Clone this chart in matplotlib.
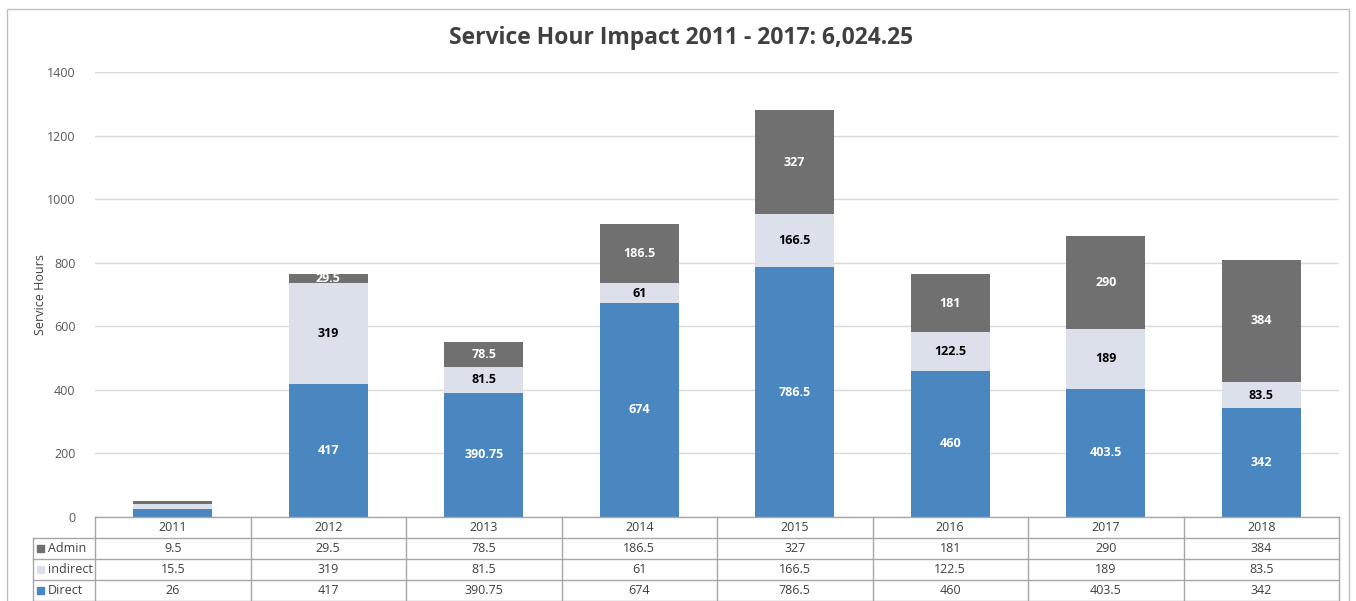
import matplotlib.pyplot as plt
from matplotlib.patches import Rectangle
import numpy as np

plt.rcParams['font.family'] = ['Open Sans', 'DejaVu Sans']

years = ['2011', '2012', '2013', '2014', '2015', '2016', '2017', '2018']
direct = [26, 417, 390.75, 674, 786.5, 460, 403.5, 342]
indirect = [15.5, 319, 81.5, 61, 166.5, 122.5, 189, 83.5]
admin = [9.5, 29.5, 78.5, 186.5, 327, 181, 290, 384]

c_direct = '#4A86C0'
c_indirect = '#DCE0EA'
c_admin = '#707070'

W, H = 1356, 601
fig = plt.figure(figsize=(W / 100, H / 100), dpi=100)

def box(x0, y0, x1, y1):
    # pixel coords (top-left origin) -> figure fraction
    return [x0 / W, 1 - y1 / H, (x1 - x0) / W, (y1 - y0) / H]

# outer chart frame
fig.patches.append(Rectangle((7 / W, -0.05), (1349 - 7) / W, 1 - 9 / H + 0.05,
                             transform=fig.transFigure, fill=False,
                             edgecolor='#BFBFBF', lw=1))

ax = fig.add_axes(box(95, 72, 1339, 517))
x = np.arange(len(years))
bw = 0.51
ax.bar(x, direct, bw, color=c_direct, zorder=3)
ax.bar(x, indirect, bw, bottom=direct, color=c_indirect, zorder=3)
bot2 = [d + i for d, i in zip(direct, indirect)]
ax.bar(x, admin, bw, bottom=bot2, color=c_admin, zorder=3)

# data labels (not on the tiny 2011 bar)
for k in range(1, len(years)):
    ax.text(x[k], direct[k] / 2, f'{direct[k]:g}', ha='center', va='center',
            color='white', fontsize=9, fontweight='bold', zorder=4)
    ax.text(x[k], direct[k] + indirect[k] / 2, f'{indirect[k]:g}', ha='center',
            va='center', color='black', fontsize=9, fontweight='bold', zorder=4)
    ax.text(x[k], bot2[k] + admin[k] / 2, f'{admin[k]:g}', ha='center',
            va='center', color='white', fontsize=9, fontweight='bold', zorder=4)

ax.set_xlim(-0.5, len(years) - 0.5)
ax.set_ylim(0, 1400)
ax.set_yticks(range(0, 1401, 200))
ax.yaxis.grid(True, color='#D9D9D9', lw=1, zorder=0)
ax.set_xticks([])
for s in ['top', 'right', 'left', 'bottom']:
    ax.spines[s].set_visible(False)
ax.tick_params(axis='y', length=0, labelsize=9, labelcolor='#595959', pad=14)
ax.set_ylabel('Service Hours', fontsize=9, color='#404040', labelpad=0)

fig.text(681 / W, 1 - 38 / H, 'Service Hour Impact 2011 - 2017: 6,024.25',
         ha='center', va='center', fontsize=16.5, fontweight='bold', color='#404040')

# data table
tab = fig.add_axes(box(33, 517, 1339, 601))
tab.set_xlim(33, 1339)
tab.set_ylim(601, 517)
tab.axis('off')
col_w = (1339 - 95) / len(years)
lc = '#A6A6A6'
rows = [('Admin', admin, c_admin), ('indirect', indirect, c_indirect),
        ('Direct', direct, c_direct)]
row_y = [517, 538, 559, 580, 601]
# horizontal lines
tab.plot([95, 1339], [517, 517], color=lc, lw=1, clip_on=False)
for yy in row_y[1:]:
    tab.plot([33, 1339], [yy, yy], color=lc, lw=1, clip_on=False)
# vertical lines
tab.plot([33, 33], [538, 601], color=lc, lw=1, clip_on=False)
for k in range(len(years) + 1):
    xx = 95 + k * col_w
    tab.plot([xx, xx], [517, 601], color=lc, lw=1, clip_on=False)
for k, yr in enumerate(years):
    tab.text(95 + (k + 0.5) * col_w, 527.5, yr, ha='center', va='center',
             fontsize=9, color='#404040')
for r, (name, vals, col) in enumerate(rows):
    yc = (row_y[r + 1] + row_y[r + 2]) / 2
    tab.add_patch(Rectangle((37, yc - 3.5), 7, 7, color=col, clip_on=False))
    tab.text(48, yc, name, ha='left', va='center', fontsize=9, color='#404040')
    for k, v in enumerate(vals):
        tab.text(95 + (k + 0.5) * col_w, yc, f'{v:g}', ha='center', va='center',
                 fontsize=9, color='#404040')

fig.savefig('out.png', dpi=100)
